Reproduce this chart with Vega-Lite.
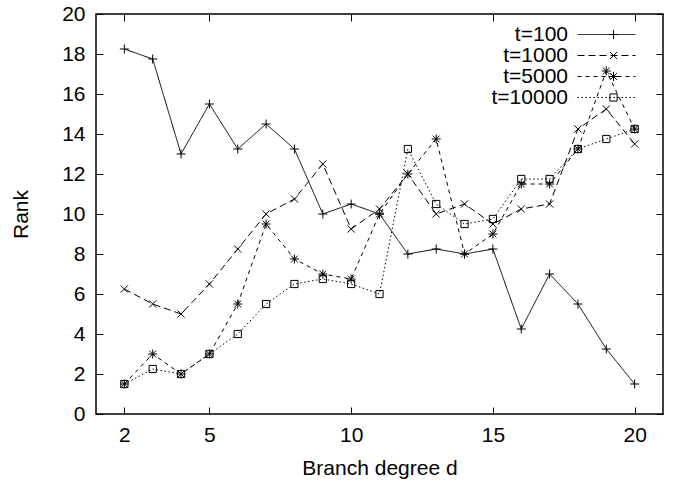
{
  "$schema": "https://vega.github.io/schema/vega-lite/v6.json",
  "autosize": "none",
  "width": 567,
  "height": 400,
  "padding": {"left": 96, "top": 14, "right": 11, "bottom": 67},
  "background": "white",
  "config": {
    "view": {"stroke": "black", "strokeWidth": 1.5},
    "font": "Liberation Sans",
    "axis": {"labelFont": "Liberation Sans", "titleFont": "Liberation Sans", "labelFontSize": 21, "titleFontSize": 21, "titleFontWeight": "normal", "labelColor": "black", "titleColor": "black", "tickColor": "black", "grid": false, "domain": false}
  },
  "data": {"values": [
    {"d": 2, "t": "t=100", "rank": 18.25},
    {"d": 3, "t": "t=100", "rank": 17.75},
    {"d": 4, "t": "t=100", "rank": 13},
    {"d": 5, "t": "t=100", "rank": 15.5},
    {"d": 6, "t": "t=100", "rank": 13.25},
    {"d": 7, "t": "t=100", "rank": 14.5},
    {"d": 8, "t": "t=100", "rank": 13.25},
    {"d": 9, "t": "t=100", "rank": 10},
    {"d": 10, "t": "t=100", "rank": 10.5},
    {"d": 11, "t": "t=100", "rank": 10},
    {"d": 12, "t": "t=100", "rank": 8},
    {"d": 13, "t": "t=100", "rank": 8.25},
    {"d": 14, "t": "t=100", "rank": 8},
    {"d": 15, "t": "t=100", "rank": 8.25},
    {"d": 16, "t": "t=100", "rank": 4.25},
    {"d": 17, "t": "t=100", "rank": 7},
    {"d": 18, "t": "t=100", "rank": 5.5},
    {"d": 19, "t": "t=100", "rank": 3.25},
    {"d": 20, "t": "t=100", "rank": 1.5},
    {"d": 2, "t": "t=1000", "rank": 6.25},
    {"d": 3, "t": "t=1000", "rank": 5.5},
    {"d": 4, "t": "t=1000", "rank": 5},
    {"d": 5, "t": "t=1000", "rank": 6.5},
    {"d": 6, "t": "t=1000", "rank": 8.25},
    {"d": 7, "t": "t=1000", "rank": 10},
    {"d": 8, "t": "t=1000", "rank": 10.75},
    {"d": 9, "t": "t=1000", "rank": 12.5},
    {"d": 10, "t": "t=1000", "rank": 9.25},
    {"d": 11, "t": "t=1000", "rank": 10.25},
    {"d": 12, "t": "t=1000", "rank": 12},
    {"d": 13, "t": "t=1000", "rank": 10},
    {"d": 14, "t": "t=1000", "rank": 10.5},
    {"d": 15, "t": "t=1000", "rank": 9.5},
    {"d": 16, "t": "t=1000", "rank": 10.25},
    {"d": 17, "t": "t=1000", "rank": 10.5},
    {"d": 18, "t": "t=1000", "rank": 14.25},
    {"d": 19, "t": "t=1000", "rank": 15.25},
    {"d": 20, "t": "t=1000", "rank": 13.5},
    {"d": 2, "t": "t=5000", "rank": 1.5},
    {"d": 3, "t": "t=5000", "rank": 3},
    {"d": 4, "t": "t=5000", "rank": 2},
    {"d": 5, "t": "t=5000", "rank": 3},
    {"d": 6, "t": "t=5000", "rank": 5.5},
    {"d": 7, "t": "t=5000", "rank": 9.5},
    {"d": 8, "t": "t=5000", "rank": 7.75},
    {"d": 9, "t": "t=5000", "rank": 7},
    {"d": 10, "t": "t=5000", "rank": 6.75},
    {"d": 11, "t": "t=5000", "rank": 10},
    {"d": 12, "t": "t=5000", "rank": 12},
    {"d": 13, "t": "t=5000", "rank": 13.75},
    {"d": 14, "t": "t=5000", "rank": 8},
    {"d": 15, "t": "t=5000", "rank": 9},
    {"d": 16, "t": "t=5000", "rank": 11.5},
    {"d": 17, "t": "t=5000", "rank": 11.5},
    {"d": 18, "t": "t=5000", "rank": 13.25},
    {"d": 19, "t": "t=5000", "rank": 17.15},
    {"d": 20, "t": "t=5000", "rank": 14.25},
    {"d": 2, "t": "t=10000", "rank": 1.5},
    {"d": 3, "t": "t=10000", "rank": 2.25},
    {"d": 4, "t": "t=10000", "rank": 2},
    {"d": 5, "t": "t=10000", "rank": 3},
    {"d": 6, "t": "t=10000", "rank": 4},
    {"d": 7, "t": "t=10000", "rank": 5.5},
    {"d": 8, "t": "t=10000", "rank": 6.5},
    {"d": 9, "t": "t=10000", "rank": 6.75},
    {"d": 10, "t": "t=10000", "rank": 6.5},
    {"d": 11, "t": "t=10000", "rank": 6},
    {"d": 12, "t": "t=10000", "rank": 13.25},
    {"d": 13, "t": "t=10000", "rank": 10.5},
    {"d": 14, "t": "t=10000", "rank": 9.5},
    {"d": 15, "t": "t=10000", "rank": 9.75},
    {"d": 16, "t": "t=10000", "rank": 11.75},
    {"d": 17, "t": "t=10000", "rank": 11.75},
    {"d": 18, "t": "t=10000", "rank": 13.25},
    {"d": 19, "t": "t=10000", "rank": 13.75},
    {"d": 20, "t": "t=10000", "rank": 14.25}
  ]},
  "layer": [
    {
      "mark": {"type": "line", "color": "black", "strokeWidth": 1},
      "encoding": {
        "x": {"field": "d", "type": "quantitative", "scale": {"domain": [1, 21], "nice": false, "zero": false},
              "axis": {"orient": "bottom", "values": [2, 5, 10, 15, 20], "tickSize": -7, "labelPadding": 17, "title": "Branch degree d", "titlePadding": 12}},
        "y": {"field": "rank", "type": "quantitative", "scale": {"domain": [0, 20], "nice": false},
              "axis": {"orient": "left", "values": [0, 2, 4, 6, 8, 10, 12, 14, 16, 18, 20], "tickSize": -7, "labelPadding": 18, "title": "Rank", "titlePadding": 30}},
        "detail": {"field": "t"},
        "strokeDash": {"field": "t", "type": "nominal",
          "scale": {"domain": ["t=100", "t=1000", "t=5000", "t=10000"], "range": [[1, 0], [7, 4], [4, 4], [1.5, 2.5]]},
          "legend": {"orient": "none", "legendX": 500, "legendY": 10, "title": null, "padding": 0,
            "symbolType": "M-3,0H3", "symbolSize": 374, "symbolStrokeWidth": 1, "symbolStrokeColor": "black", "symbolFillColor": "transparent", "symbolOffset": 0,
            "labelAlign": "right", "labelOffset": -49, "labelFont": "Liberation Sans", "labelFontSize": 21, "labelColor": "black",
            "rowPadding": -4, "labelLimit": 300}}
      }
    },
    {
      "mark": {"type": "point", "filled": false, "stroke": "black", "strokeWidth": 1, "size": 81, "opacity": 1},
      "encoding": {
        "x": {"field": "d", "type": "quantitative", "axis": {"orient": "top", "values": [2, 5, 10, 15, 20], "tickSize": -7, "labels": false, "title": null}},
        "y": {"field": "rank", "type": "quantitative", "axis": {"orient": "right", "values": [0, 2, 4, 6, 8, 10, 12, 14, 16, 18, 20], "tickSize": -7, "labels": false, "title": null}},
        "shape": {"field": "t", "type": "nominal",
          "scale": {"domain": ["t=10000", "t=5000", "t=1000", "t=100"],
                    "range": ["M-0.8,-0.8H0.8V0.8H-0.8Z", "M-1,0H1M0,-1V1M-0.75,-0.75L0.75,0.75M-0.75,0.75L0.75,-0.75", "M-0.8,-0.8L0.8,0.8M-0.8,0.8L0.8,-0.8", "M-1,0H1M0,-1V1"]},
          "legend": {"orient": "none", "legendX": 507, "legendY": 10, "title": null, "padding": 0,
            "values": ["t=100", "t=1000", "t=5000", "t=10000"],
            "symbolSize": 81, "symbolStrokeWidth": 1, "symbolStrokeColor": "black", "symbolFillColor": "transparent", "symbolOffset": 0,
            "labelExpr": "''", "labelFont": "Liberation Sans", "labelFontSize": 21, "labelOpacity": 0, "rowPadding": -4, "labelLimit": 300}}
      }
    }
  ]
}
